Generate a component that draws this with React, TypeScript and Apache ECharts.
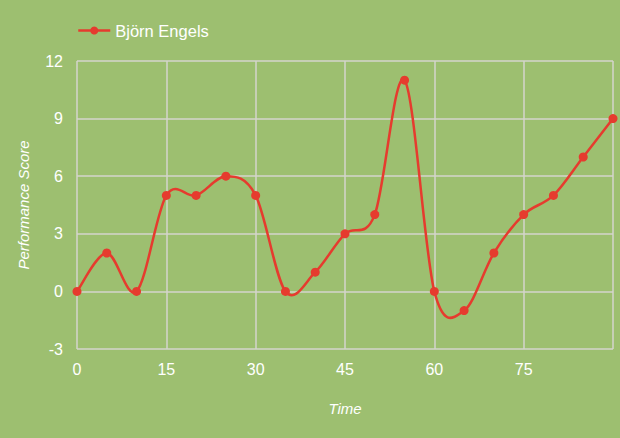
import { useEffect, useRef } from "react";
import * as echarts from "echarts";

const seriesName = "Björn Engels";
const times = [0, 5, 10, 15, 20, 25, 30, 35, 40, 45, 50, 55, 60, 65, 70, 75, 80, 85, 90];
const scores = [0, 2, 0, 5, 5, 6, 5, 0, 1, 3, 4, 11, 0, -1, 2, 4, 5, 7, 9];

const RED = "#e63b2e";
const GRID = "#d4d4cc";
const FONT = "Liberation Sans, Arial, Helvetica, sans-serif";

export default function App() {
  const ref = useRef<HTMLDivElement>(null);

  useEffect(() => {
    if (!ref.current) return;
    const chart = echarts.init(ref.current, undefined, { renderer: "svg" });
    const points = times.map((t, i) => [t, scores[i]]);
    const n = points.length;

    chart.setOption({
      animation: false,
      backgroundColor: "#9dbf70",
      textStyle: { fontFamily: FONT },
      legend: {
        left: 72, top: 17,
        itemWidth: 32, itemHeight: 10,
        textStyle: { color: "#ffffff", fontSize: 16.5, fontFamily: FONT },
        lineStyle: { color: RED, width: 2.5, opacity: 1 },
        data: [seriesName],
      },
      grid: { left: 77, right: 7, top: 61, bottom: 89 },
      xAxis: {
        type: "value",
        min: 0, max: 90, interval: 15,
        name: "Time",
        nameLocation: "middle",
        nameGap: 52,
        nameTextStyle: { color: "#ffffff", fontSize: 15, fontStyle: "italic", fontFamily: FONT },
        axisLine: { show: false },
        axisTick: { show: false },
        axisLabel: { color: "#ffffff", fontSize: 16, margin: 12, showMaxLabel: false, fontFamily: FONT },
        splitLine: { show: true, lineStyle: { color: GRID, width: 1.5 } },
      },
      yAxis: {
        type: "value",
        min: -3, max: 12, interval: 3,
        name: "Performance Score",
        nameLocation: "middle",
        nameGap: 46,
        nameTextStyle: { color: "#ffffff", fontSize: 15, fontStyle: "italic", fontFamily: FONT },
        axisLine: { show: false },
        axisTick: { show: false },
        axisLabel: { color: "#ffffff", fontSize: 16, margin: 14, fontFamily: FONT },
        splitLine: { show: true, lineStyle: { color: GRID, width: 1.5 } },
      },
      series: [
        {
          // Catmull-Rom curve through the data points
          name: "curve",
          type: "custom",
          z: 2,
          silent: true,
          data: points,
          renderItem: (params: any, api: any) => {
            const i = params.dataIndex;
            if (i >= n - 1) return null;
            const p0 = api.coord(points[Math.max(i - 1, 0)]);
            const p1 = api.coord(points[i]);
            const p2 = api.coord(points[i + 1]);
            const p3 = api.coord(points[Math.min(i + 2, n - 1)]);
            return {
              type: "bezierCurve",
              shape: {
                x1: p1[0], y1: p1[1],
                x2: p2[0], y2: p2[1],
                cpx1: p1[0] + (p2[0] - p0[0]) / 6,
                cpy1: p1[1] + (p2[1] - p0[1]) / 6,
                cpx2: p2[0] - (p3[0] - p1[0]) / 6,
                cpy2: p2[1] - (p3[1] - p1[1]) / 6,
              },
              style: { stroke: RED, lineWidth: 2.5, fill: "none" },
            };
          },
        },
        {
          name: seriesName,
          type: "line",
          z: 3,
          data: points,
          symbol: "circle",
          symbolSize: 9,
          itemStyle: { color: RED },
          lineStyle: { color: RED, width: 2.5, opacity: 0 },
        },
      ],
    });

    return () => chart.dispose();
  }, []);

  return <div ref={ref} style={{ position: "fixed", left: 0, top: 0, width: 620, height: 438 }} />;
}
